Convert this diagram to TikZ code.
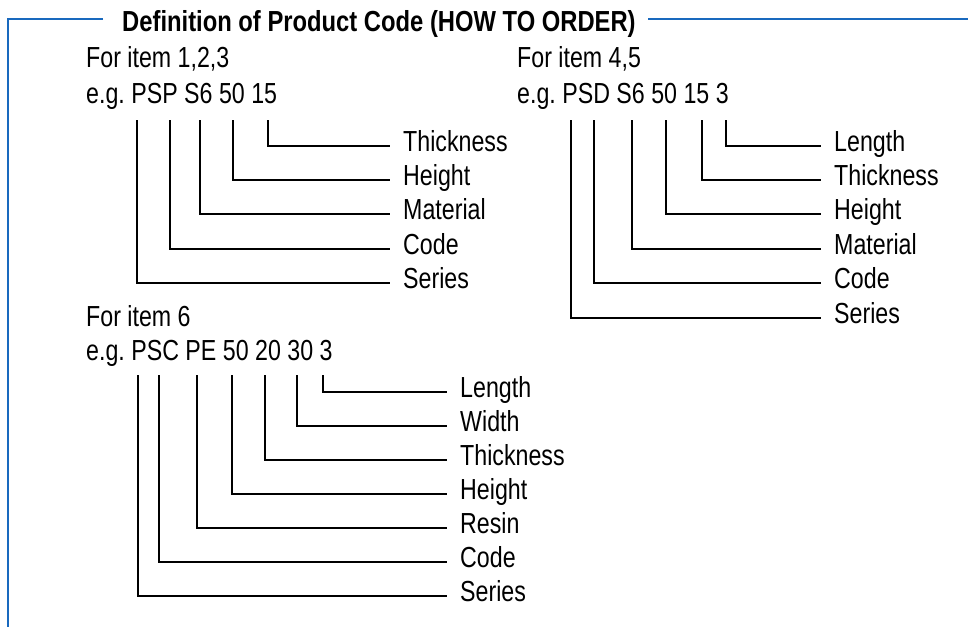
\documentclass[tikz,border=0pt]{standalone}
\usepackage{fontspec}
\setmainfont{Liberation Sans}[FakeStretch=0.80]
\newfontfamily\headfont{Liberation Sans}[FakeStretch=0.82]
\definecolor{frameblue}{RGB}{25,105,190}
\frenchspacing

\begin{document}
\begin{tikzpicture}[x=1pt,y=-1pt,
    txt/.style={font=\fontsize{29}{32}\selectfont, inner sep=0pt, anchor=base west},
    part/.style={font=\fontsize{29}{32}\selectfont, anchor=west, inner ysep=0pt,
                 inner xsep=13pt, text height=11pt, text depth=0pt},
    lead/.style={line width=1.7pt}]
    \useasboundingbox (0,0) rectangle (968,626);

    %% heading and frame
    \node[txt, font=\headfont\fontsize{29}{32}\selectfont\bfseries] (title) at (122,32)
      {Definition of Product Code (HOW TO ORDER)};
    \draw[frameblue, line width=2pt] (103,19) -- (8,19) -- (8,630);
    \draw[frameblue, line width=2pt] (648,19) -- (970,19);

    %% items 1,2,3
    \node[txt] (item123) at (86,67) {For item 1,2,3};
    \node[txt] (code123) at (86,103) {e.g. PSP S6 50 15};
    \foreach \x/\y/\name/\lab in {268/146/thk/Thickness, 233/180/hgt/Height,
        200/214/mat/Material, 170/249/cod/Code, 137/283/ser/Series} {
      \coordinate (a-\name) at (\x,120);
      \node[part] (A-\name) at (390,\y) {\lab};
      \draw[lead] (a-\name) |- (A-\name.west);
    }

    %% items 4,5
    \node[txt] (item45) at (517,67) {For item 4,5};
    \node[txt] (code45) at (517,103) {e.g. PSD S6 50 15 3};
    \foreach \x/\y/\name/\lab in {726/146/len/Length, 702/180/thk/Thickness,
        666/214/hgt/Height, 632/249/mat/Material, 594/283/cod/Code,
        571/318/ser/Series} {
      \coordinate (b-\name) at (\x,120);
      \node[part] (B-\name) at (821,\y) {\lab};
      \draw[lead] (b-\name) |- (B-\name.west);
    }

    %% item 6
    \node[txt] (item6) at (86,326) {For item 6};
    \node[txt] (code6) at (86,360) {e.g. PSC PE 50 20 30 3};
    \foreach \x/\y/\name/\lab in {323/392/len/Length, 297/426/wid/Width,
        265/460/thk/Thickness, 232/494/hgt/Height, 197/528/res/Resin,
        159/562/cod/Code, 138/596/ser/Series} {
      \coordinate (c-\name) at (\x,375);
      \node[part] (C-\name) at (447,\y) {\lab};
      \draw[lead] (c-\name) |- (C-\name.west);
    }
\end{tikzpicture}
\end{document}
